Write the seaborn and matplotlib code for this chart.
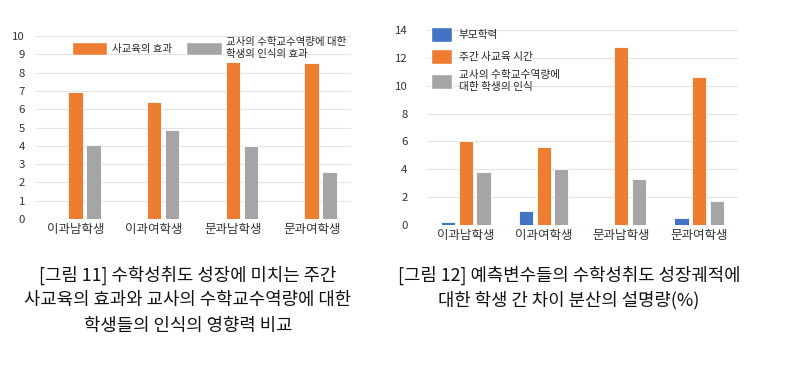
import matplotlib
matplotlib.use("Agg")
import matplotlib.pyplot as plt
import seaborn as sns
import pandas as pd
from matplotlib.patches import Patch

categories = ["이과남학생", "이과여학생", "문과남학생", "문과여학생"]

# Figure 11 (left)
left_series = ["사교육의 효과", "교사의 수학교수역량에 대한\n학생의 인식의 효과"]
left_private = [6.95, 6.37, 8.58, 8.53]
left_teacher = [4.07, 4.86, 4.01, 2.56]
left_ticks = list(range(0, 11))

# Figure 12 (right)
right_series = ["부모학력", "주간 사교육 시간", "교사의 수학교수역량에\n대한 학생의 인식"]
right_parent = [0.24, 1.0, 0.0, 0.5]
right_private = [6.02, 5.59, 12.8, 10.62]
right_teacher = [3.77, 4.03, 3.31, 1.73]
right_ticks = list(range(0, 15, 2))

left_caption = ["[그림 11] 수학성취도 성장에 미치는 주간",
                "사교육의 효과와 교사의 수학교수역량에 대한",
                "학생들의 인식의 영향력 비교"]
right_caption = ["[그림 12] 예측변수들의 수학성취도 성장궤적에",
                 "대한 학생 간 차이 분산의 설명량(%)"]

BLUE, ORANGE, GRAY = "#4472C4", "#ED7D31", "#A5A5A5"

sns.set_theme(style="white")
plt.rcParams['font.family'] = ['Noto Sans CJK KR', 'DejaVu Sans']

W, H = 790, 367
fig = plt.figure(figsize=(W / 100, H / 100), dpi=100)
fig.patch.set_facecolor("white")


def ax_rect(x0, y0, x1, y1):
    return [x0 / W, 1 - y1 / H, (x1 - x0) / W, (y1 - y0) / H]


# ---------- left chart ----------
axL = fig.add_axes(ax_rect(36, 36, 351, 219))
blank = "_blank"
dfL = pd.DataFrame({
    "cat": categories * 2,
    "series": [left_series[0]] * 4 + [left_series[1]] * 4,
    "val": left_private + left_teacher,
})
sns.barplot(data=dfL, x="cat", y="val", hue="series",
            hue_order=[blank] + left_series,
            palette={blank: "white", left_series[0]: ORANGE, left_series[1]: GRAY},
            order=categories, width=0.685, gap=0.2, saturation=1,
            edgecolor="white", linewidth=0.6, ax=axL, legend=False, zorder=3)
axL.set_ylim(0, 10)
axL.set_yticks(left_ticks)
axL.set_xlim(-0.5, 3.5)

# ---------- right chart ----------
axR = fig.add_axes(ax_rect(427, 30, 738, 225))
dfR = pd.DataFrame({
    "cat": categories * 3,
    "series": [right_series[0]] * 4 + [right_series[1]] * 4 + [right_series[2]] * 4,
    "val": right_parent + right_private + right_teacher,
})
sns.barplot(data=dfR, x="cat", y="val", hue="series", hue_order=right_series,
            palette={right_series[0]: BLUE, right_series[1]: ORANGE, right_series[2]: GRAY},
            order=categories, width=0.68, gap=0.2, saturation=1,
            edgecolor="white", linewidth=0.6, ax=axR, legend=False, zorder=3)
axR.set_ylim(0, 14)
axR.set_yticks(right_ticks)
axR.set_xlim(-0.5, 3.5)

for ax, pad in ((axL, 8), (axR, 14)):
    ax.set_xlabel("")
    ax.set_ylabel("")
    for s in ax.spines.values():
        s.set_visible(False)
    ax.yaxis.grid(True, color="#E3E3E3", linewidth=0.8, zorder=0)
    ax.set_axisbelow(True)
    ax.tick_params(axis="y", length=0, pad=pad, labelsize=8.2, labelcolor="#333333")
    ax.tick_params(axis="x", length=0, pad=3, labelsize=9, labelcolor="#333333")
    ax.set_facecolor("white")

# legends
hL = [Patch(facecolor=ORANGE, edgecolor="white"), Patch(facecolor=GRAY, edgecolor="white")]
legL = fig.legend(hL, left_series, loc="upper left", bbox_to_anchor=(72 / W, 1 - 37 / H),
                  ncol=2, frameon=False, fontsize=7.5, handlelength=3.4, handleheight=1.6,
                  handletextpad=0.4, columnspacing=1.4, borderpad=0, borderaxespad=0,
                  labelspacing=0.2)

hR = [Patch(facecolor=BLUE, edgecolor="white"), Patch(facecolor=ORANGE, edgecolor="white"),
      Patch(facecolor=GRAY, edgecolor="white")]
legR = fig.legend(hR, right_series, loc="upper left", bbox_to_anchor=(431 / W, 1 - 27 / H),
                  ncol=1, frameon=False, fontsize=7.7, handlelength=2.0, handleheight=1.75,
                  handletextpad=0.6, labelspacing=0.65, borderpad=0, borderaxespad=0)

# captions
for i, line in enumerate(left_caption):
    fig.text(188 / W, 1 - (275 + 25.5 * i) / H, line, ha="center", va="center",
             fontsize=12.8, color="#111111")
for i, line in enumerate(right_caption):
    fig.text(569 / W, 1 - (275 + 25.5 * i) / H, line, ha="center", va="center",
             fontsize=12.8, color="#111111")

fig.savefig("out.png", dpi=100, facecolor="white")
